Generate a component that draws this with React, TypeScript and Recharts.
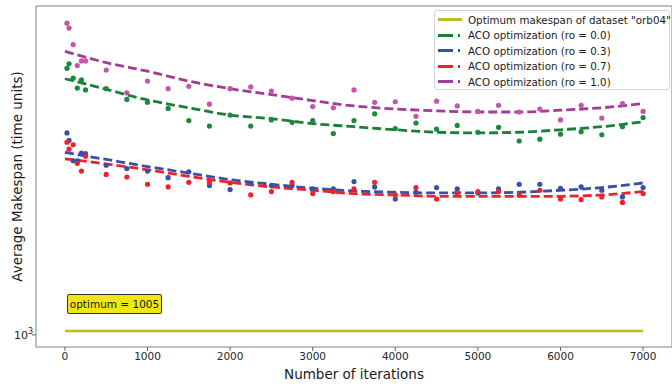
import { ComposedChart, Line, Scatter, XAxis, YAxis, ReferenceArea, Label } from 'recharts';

// iteration counts where the runs were sampled
const iterations = [
  25, 50, 100, 150, 200, 250, 500, 750, 1000, 1250, 1500, 1750, 2000, 2250, 2500, 2750, 3000,
  3250, 3500, 3750, 4000, 4250, 4500, 4750, 5000, 5250, 5500, 5750, 6000, 6250, 6500, 6750, 7000,
];

// average makespan per run, one list per evaporation rate
const ro00 = [
  1395, 1403, 1378, 1361, 1375, 1358, 1360, 1342, 1337, 1327, 1307, 1298, 1316, 1298, 1308, 1304, 1307,
  1286, 1307, 1318, 1294, 1303, 1293, 1299, 1288, 1296, 1274, 1277, 1285, 1289, 1284, 1297, 1312,
];
const ro03 = [
  1287, 1275, 1243, 1243, 1255, 1254, 1236, 1231, 1227, 1217, 1226, 1205, 1199, 1208, 1205, 1205, 1200,
  1200, 1211, 1203, 1185, 1195, 1202, 1200, 1194, 1200, 1207, 1207, 1201, 1203, 1198, 1188, 1202,
];
const ro07 = [
  1272, 1261, 1268, 1239, 1227, 1250, 1222, 1218, 1207, 1203, 1210, 1210, 1209, 1191, 1196, 1210, 1193,
  1196, 1200, 1210, 1191, 1202, 1185, 1194, 1196, 1196, 1191, 1198, 1185, 1184, 1188, 1180, 1193,
];
const ro10 = [
  1476, 1467, 1437, 1400, 1408, 1408, 1392, 1353, 1373, 1360, 1364, 1334, 1360, 1363, 1356, 1344, 1330,
  1328, 1358, 1337, 1338, 1314, 1339, 1331, 1322, 1332, 1321, 1326, 1308, 1332, 1311, 1335, 1322,
];

// fitted trend curves, read at these iterations
const fitIterations = [0, 500, 1000, 1500, 2000, 2500, 3000, 3500, 4000, 4500, 5000, 5500, 6000, 6500, 7000];
const fit00 = [1377, 1359, 1341, 1328, 1316, 1310, 1302, 1297, 1292, 1288, 1287, 1288, 1292, 1297, 1305];
const fit03 = [1256, 1245, 1234, 1224, 1214, 1207, 1201, 1197, 1195, 1194, 1194, 1195, 1198, 1202, 1209];
const fit07 = [1246, 1238, 1229, 1219, 1210, 1203, 1198, 1193, 1191, 1189, 1189, 1189, 1189, 1191, 1196];
const fit10 = [1425, 1405, 1390, 1373, 1360, 1350, 1340, 1331, 1326, 1323, 1321, 1321, 1324, 1328, 1335];

const optimum = 1005;
const optimumRange = [0, 7000];
const xTicks = [0, 1000, 2000, 3000, 4000, 5000, 6000, 7000];

const FONT = '"DejaVu Sans", sans-serif';

const series = [
  { name: 'ACO optimization (ro = 0.0)', pts: ro00, fit: fit00, dot: '#178a3c', line: '#1b7f3a' },
  { name: 'ACO optimization (ro = 0.3)', pts: ro03, fit: fit03, dot: '#3550a8', line: '#3a4fa6' },
  { name: 'ACO optimization (ro = 0.7)', pts: ro07, fit: fit07, dot: '#f0212a', line: '#e8252b' },
  { name: 'ACO optimization (ro = 1.0)', pts: ro10, fit: fit10, dot: '#c455a8', line: '#a23c96' },
];

const toPoints = (xs: number[], ys: number[]) => xs.map((x, i) => ({ x, y: ys[i] }));

const LogTick = (props: any) => {
  const { x, y } = props;
  return (
    <text x={x + 1} y={y} dy={4} textAnchor="end" fontSize={11} fill="#262626" fontFamily={FONT}>
      10
      <tspan dy={-5} fontSize={8}>3</tspan>
    </text>
  );
};

export default function App() {
  const optLine = optimumRange.map((x) => ({ x, y: optimum }));

  return (
    <div style={{ position: 'absolute', left: 0, top: 0, width: 672, height: 387, fontFamily: FONT }}>
      <ComposedChart width={672} height={387} margin={{ top: 6, right: 0, bottom: 0, left: 0 }}>
        <XAxis
          type="number"
          dataKey="x"
          domain={[-350, 7350]}
          ticks={xTicks}
          allowDataOverflow
          height={40}
          tickSize={4}
          tickMargin={2}
          axisLine={false}
          tickLine={{ stroke: '#666' }}
          tick={{ fontSize: 10.5, fill: '#262626', fontFamily: FONT }}
        >
          <Label value="Number of iterations" position="insideBottom" offset={8} fontSize={13.5} fill="#1a1a1a" fontFamily={FONT} />
        </XAxis>
        <YAxis
          type="number"
          scale="log"
          domain={[985, 1508]}
          ticks={[1000]}
          allowDataOverflow
          width={36}
          tickSize={4}
          tickMargin={0}
          axisLine={false}
          tickLine={{ stroke: '#666' }}
          tick={<LogTick />}
        >
          <Label value="Average Makespan (time units)" angle={-90} position="center" dx={-1} fontSize={13.5} fill="#1a1a1a" fontFamily={FONT} />
        </YAxis>
        <ReferenceArea x1={-350} x2={7350} y1={985} y2={1508} fill="none" stroke="#808080" strokeWidth={1} ifOverflow="visible" />

        <Line
          data={optLine}
          dataKey="y"
          stroke="#bcbd22"
          strokeWidth={2.5}
          dot={false}
          activeDot={false}
          isAnimationActive={false}
        />
        {series.map((s) => (
          <Scatter
            key={'p' + s.name}
            data={toPoints(iterations, s.pts)}
            dataKey="y"
            isAnimationActive={false}
            shape={(p: any) => <circle cx={p.cx} cy={p.cy} r={2.6} fill={s.dot} />}
          />
        ))}
        {series.map((s) => (
          <Line
            key={'f' + s.name}
            data={toPoints(fitIterations, s.fit)}
            dataKey="y"
            type="monotone"
            stroke={s.line}
            strokeWidth={2.8}
            strokeDasharray="9 4"
            dot={false}
            activeDot={false}
            isAnimationActive={false}
          />
        ))}
      </ComposedChart>

      <div
        style={{
          position: 'absolute',
          left: 67,
          top: 294,
          width: 95,
          height: 20,
          boxSizing: 'border-box',
          background: '#f0e614',
          border: '1px solid #333',
          borderRadius: 2,
          fontSize: 10.5,
          lineHeight: '18px',
          textAlign: 'center',
          color: '#1a1a1a',
        }}
      >
        optimum = 1005
      </div>

      <div
        style={{
          position: 'absolute',
          left: 434,
          top: 10,
          width: 236,
          height: 80,
          boxSizing: 'border-box',
          background: 'rgba(255,255,255,0.85)',
          border: '1px solid #d4d4d4',
          borderRadius: 3,
          fontSize: 10.3,
          color: '#1a1a1a',
        }}
      >
        {[{ name: 'Optimum makespan of dataset "orb04"', line: '#bcbd22', dashed: false }, ...series.map((s) => ({ name: s.name, line: s.line, dashed: true }))].map(
          (it, i) => (
            <div key={it.name} style={{ position: 'absolute', left: 3, top: 1 + i * 15.5, height: 15, display: 'flex', alignItems: 'center' }}>
              <svg width={26} height={15}>
                <line
                  x1={0}
                  y1={7.5}
                  x2={24}
                  y2={7.5}
                  stroke={it.line}
                  strokeWidth={3}
                  strokeDasharray={it.dashed ? '15 5 2 100' : undefined}
                />
              </svg>
              <span style={{ marginLeft: 4, whiteSpace: 'nowrap' }}>{it.name}</span>
            </div>
          ),
        )}
      </div>
    </div>
  );
}
